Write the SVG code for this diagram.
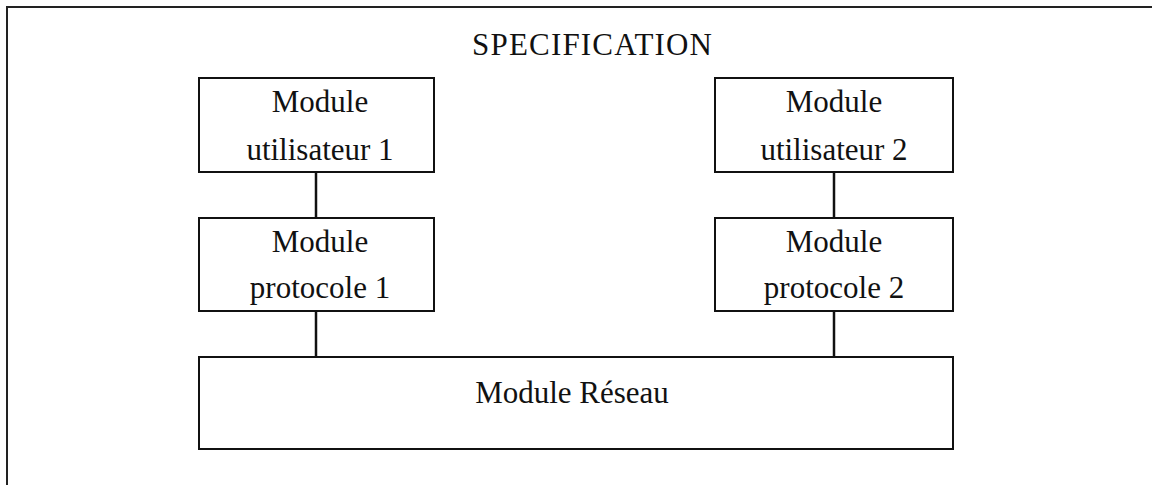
<svg xmlns="http://www.w3.org/2000/svg" width="1152" height="485" viewBox="0 0 1152 485">
<style>
.box{fill:#fff;stroke:#111;stroke-width:2}
.t{font-family:"Liberation Serif","DejaVu Serif",serif;font-size:31px;fill:#111;text-anchor:middle}
.c{stroke:#111;stroke-width:2.5;fill:none}
</style>
<rect width="1152" height="485" fill="#fff"/>
<path d="M7,486 V7 H1153" fill="none" stroke="#222" stroke-width="2"/>
<text class="t" x="592" y="55" textLength="240" lengthAdjust="spacing">SPECIFICATION</text>
<g id="connectors">
<line class="c" x1="316" y1="172" x2="316" y2="218"/>
<line class="c" x1="834" y1="172" x2="834" y2="218"/>
<line class="c" x1="316" y1="311" x2="316" y2="357"/>
<line class="c" x1="834" y1="311" x2="834" y2="357"/>
</g>
<g id="user1">
<rect class="box" x="199" y="78" width="235" height="94"/>
<text class="t" x="320" y="112">Module</text>
<text class="t" x="320" y="160">utilisateur 1</text>
</g>
<g id="user2">
<rect class="box" x="715" y="78" width="238" height="94"/>
<text class="t" x="834" y="112">Module</text>
<text class="t" x="834" y="160">utilisateur 2</text>
</g>
<g id="proto1">
<rect class="box" x="199" y="218" width="235" height="93"/>
<text class="t" x="320" y="252">Module</text>
<text class="t" x="320" y="298">protocole 1</text>
</g>
<g id="proto2">
<rect class="box" x="715" y="218" width="238" height="93"/>
<text class="t" x="834" y="252">Module</text>
<text class="t" x="834" y="298">protocole 2</text>
</g>
<g id="reseau">
<rect class="box" x="199" y="357" width="754" height="92"/>
<text class="t" x="572" y="403">Module Réseau</text>
</g>
</svg>
